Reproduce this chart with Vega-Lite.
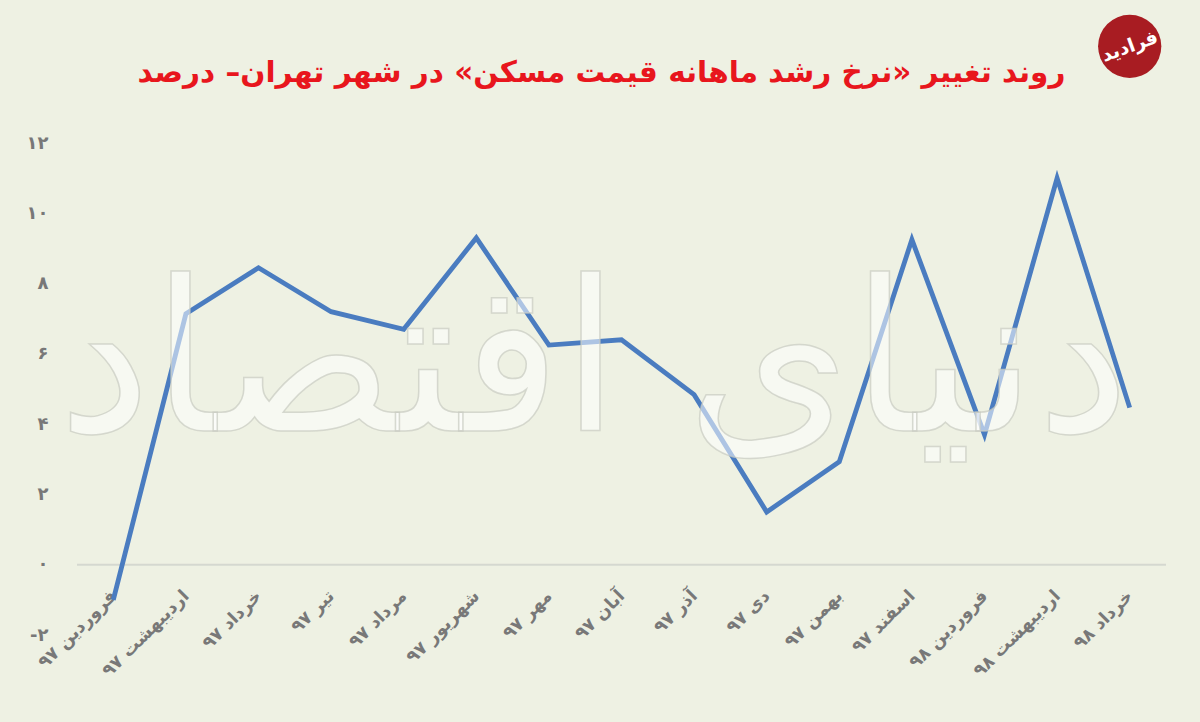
{
  "$schema": "https://vega.github.io/schema/vega-lite/v6.json",
  "width": 1089,
  "height": 492,
  "autosize": {"type": "none"},
  "padding": {"left": 77, "top": 143, "right": 34, "bottom": 87},
  "background": "#eef1e3",
  "title": {
    "text": "روند تغییر «نرخ رشد ماهانه قیمت مسکن» در شهر تهران– درصد",
    "font": "DejaVu Sans",
    "fontSize": 29.5,
    "fontWeight": "bold",
    "color": "#e8161d",
    "anchor": "middle",
    "frame": "group",
    "dx": -20,
    "offset": -74
  },
  "data": {
    "values": [
      {"month": "فروردین ۹۷", "rate": -1.0},
      {"month": "اردیبهشت ۹۷", "rate": 7.14},
      {"month": "خرداد ۹۷", "rate": 8.45},
      {"month": "تیر ۹۷", "rate": 7.2},
      {"month": "مرداد ۹۷", "rate": 6.7},
      {"month": "شهریور ۹۷", "rate": 9.3},
      {"month": "مهر ۹۷", "rate": 6.25},
      {"month": "آبان ۹۷", "rate": 6.4},
      {"month": "آذر ۹۷", "rate": 4.84},
      {"month": "دی ۹۷", "rate": 1.5},
      {"month": "بهمن ۹۷", "rate": 2.93},
      {"month": "اسفند ۹۷", "rate": 9.25},
      {"month": "فروردین ۹۸", "rate": 3.7},
      {"month": "اردیبهشت ۹۸", "rate": 11.0},
      {"month": "خرداد ۹۸", "rate": 4.47}
    ]
  },
  "layer": [
    {
      "data": {"values": [{"zero": 0}]},
      "mark": {"type": "rule", "color": "#d5d8d0", "strokeWidth": 2},
      "encoding": {"y": {"field": "zero", "type": "quantitative"}}
    },
    {
      "mark": {"type": "line", "color": "#4a7cc0", "strokeWidth": 4.8, "strokeJoin": "miter"},
      "encoding": {
        "x": {
          "field": "month",
          "type": "ordinal",
          "scale": {
            "type": "point",
            "padding": 0.5,
            "domain": ["فروردین ۹۷", "اردیبهشت ۹۷", "خرداد ۹۷", "تیر ۹۷", "مرداد ۹۷", "شهریور ۹۷", "مهر ۹۷", "آبان ۹۷", "آذر ۹۷", "دی ۹۷", "بهمن ۹۷", "اسفند ۹۷", "فروردین ۹۸", "اردیبهشت ۹۸", "خرداد ۹۸"]
          },
          "axis": {
            "title": null,
            "domain": false,
            "ticks": false,
            "labelAngle": -45,
            "labelAlign": "right",
            "labelBaseline": "middle",
            "labelPadding": -42,
            "labelOffset": 0,
            "labelFont": "DejaVu Sans",
            "labelFontSize": 17.5,
            "labelFontWeight": "bold",
            "labelColor": "#787878",
            "labelOverlap": false,
            "labelLimit": 0
          }
        },
        "y": {
          "field": "rate",
          "type": "quantitative",
          "scale": {"domain": [-2, 12], "nice": false, "zero": false},
          "axis": {
            "title": null,
            "values": [-2, 0, 2, 4, 6, 8, 10, 12],
            "grid": false,
            "domain": false,
            "ticks": false,
            "labelPadding": 29,
            "labelFont": "DejaVu Sans",
            "labelFontSize": 18,
            "labelFontWeight": "bold",
            "labelColor": "#787878",
            "labelExpr": "datum.value == 12 ? '۱۲' : datum.value == 10 ? '۱۰' : datum.value == 8 ? '۸' : datum.value == 6 ? '۶' : datum.value == 4 ? '۴' : datum.value == 2 ? '۲' : datum.value == 0 ? '۰' : '-۲'"
          }
        }
      }
    },
    {
      "data": {"values": [{"mark": "دنیای اقتصاد", "pos": "مهر ۹۷", "level": 5.6}]},
      "mark": {
        "type": "text",
        "font": "DejaVu Sans",
        "fontSize": 210,
        "fill": "#ffffff",
        "fillOpacity": 0.55,
        "stroke": "#c8cac0",
        "strokeWidth": 1.5,
        "strokeOpacity": 0.7,
        "align": "center",
        "baseline": "middle",
        "dx": 45
      },
      "encoding": {
        "x": {"field": "pos", "type": "ordinal"},
        "y": {"field": "level", "type": "quantitative"},
        "text": {"field": "mark"}
      }
    },
    {
      "data": {"values": [{"pos": "خرداد ۹۸", "level": 14.75, "name": "فرادید"}]},
      "layer": [
        {
          "mark": {"type": "point", "filled": true, "size": 4000, "color": "#a81c22", "opacity": 1},
          "encoding": {
            "x": {"field": "pos", "type": "ordinal"},
            "y": {"field": "level", "type": "quantitative"}
          }
        },
        {
          "mark": {"type": "text", "font": "DejaVu Sans", "fontSize": 19, "fontWeight": "bold", "color": "#ffffff", "angle": -20},
          "encoding": {
            "x": {"field": "pos", "type": "ordinal"},
            "y": {"field": "level", "type": "quantitative"},
            "text": {"field": "name"}
          }
        }
      ]
    }
  ],
  "config": {"view": {"stroke": null}}
}
